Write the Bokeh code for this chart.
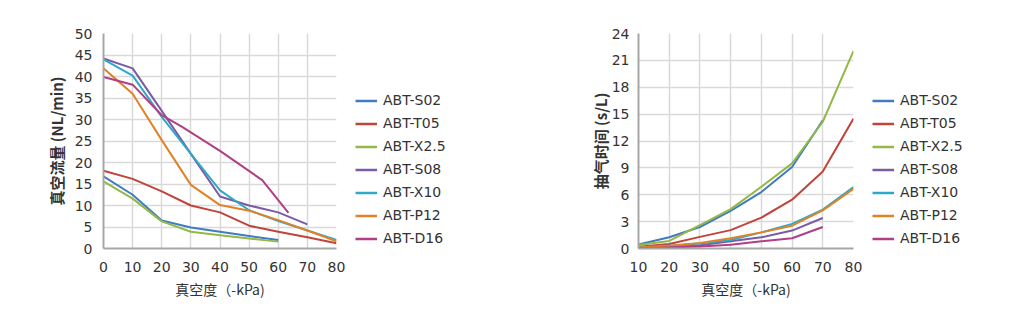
from bokeh.plotting import figure
from bokeh.layouts import row
from bokeh.models import Legend, LegendItem, Range1d, SingleIntervalTicker
from bokeh.embed import file_html
from bokeh.resources import INLINE

names = ["ABT-S02", "ABT-T05", "ABT-X2.5", "ABT-S08", "ABT-X10", "ABT-P12", "ABT-D16"]
colors = ["#3f7cc0", "#c0443c", "#94b847", "#7a5ba6", "#2fa8c8", "#e08228", "#b03f85"]

# Left chart: vacuum flow (NL/min) vs vacuum (-kPa)
flow_x = [
    [0, 10, 20, 30, 40, 50, 60],
    [0, 10, 20, 30, 40, 50, 60, 70, 80],
    [0, 10, 20, 30, 40, 50, 60],
    [0, 10, 20, 30, 40, 50, 60, 70],
    [0, 10, 20, 30, 40, 50, 60, 70, 80],
    [0, 10, 20, 30, 40, 50, 60, 70, 80],
    [0, 10, 20, 27, 40, 54.5, 63.5],
]
flow_y = [
    [16.8, 12.5, 6.5, 4.9, 3.9, 2.9, 2.0],
    [18.1, 16.2, 13.3, 10.0, 8.4, 5.3, 3.9, 2.6, 1.2],
    [15.6, 11.6, 6.3, 3.9, 3.1, 2.3, 1.6],
    [44.2, 41.9, 32.0, 22.0, 12.1, 10.0, 8.4, 5.6],
    [44.0, 40.2, 30.6, 22.0, 13.5, 8.9, 6.4, 4.2, 2.0],
    [41.9, 36.0, 25.2, 14.8, 10.1, 8.8, 6.6, 4.2, 1.7],
    [39.9, 38.1, 31.0, 28.3, 22.7, 15.9, 8.3],
]

# Right chart: evacuation time (s/L) vs vacuum (-kPa)
time_x = [
    [10, 20, 30, 40, 50, 60, 70],
    [10, 20, 30, 40, 50, 60, 70, 80],
    [10, 20, 30, 40, 50, 60, 70, 80],
    [10, 20, 30, 40, 50, 60, 70],
    [10, 20, 30, 40, 50, 60, 70, 80],
    [10, 20, 30, 40, 50, 60, 70, 80],
    [10, 20, 30, 40, 50, 60, 70],
]
time_y = [
    [0.45, 1.25, 2.4, 4.2, 6.3, 9.1, 14.3],
    [0.2, 0.5, 1.3, 2.05, 3.45, 5.45, 8.6, 14.5],
    [0.4, 0.85, 2.6, 4.4, 6.9, 9.5, 14.15, 22.05],
    [0.07, 0.2, 0.37, 0.8, 1.25, 2.0, 3.4],
    [0.12, 0.3, 0.55, 0.95, 1.8, 2.75, 4.35, 6.85],
    [0.12, 0.3, 0.62, 1.15, 1.8, 2.55, 4.25, 6.65],
    [0.04, 0.12, 0.22, 0.42, 0.8, 1.15, 2.4],
]

CJK = "Noto Sans CJK SC"
LAT = "DejaVu Sans"
TXT = "#333333"


def make_chart(xs, ys, xr, yr, xstep, ystep, ylabel, width, left, right, ylabel_standoff, tick_standoff):
    p = figure(width=width, height=317, output_backend="svg", toolbar_location=None,
               x_range=Range1d(*xr), y_range=Range1d(*yr),
               min_border_left=left, min_border_right=right,
               min_border_top=33, min_border_bottom=69)
    p.outline_line_color = None
    p.background_fill_color = "white"
    p.border_fill_color = "white"
    p.xaxis.ticker = SingleIntervalTicker(interval=xstep)
    p.yaxis.ticker = SingleIntervalTicker(interval=ystep)
    for ax in (p.xaxis[0], p.yaxis[0]):
        ax.axis_line_color = "#a6a6a6"
        ax.axis_line_width = 2
        ax.major_tick_line_color = None
        ax.minor_tick_line_color = None
        ax.major_label_text_font = LAT
        ax.major_label_text_font_size = "14px"
        ax.major_label_text_color = TXT
        ax.axis_label_text_font = CJK
        ax.axis_label_text_color = TXT
        ax.axis_label_text_font_size = "14px"
    p.xaxis.axis_label = "真空度（-kPa)"
    p.xaxis.axis_label_text_font_style = "normal"
    p.xaxis.major_label_standoff = 7
    p.xaxis.axis_label_standoff = 4
    p.yaxis.axis_label = ylabel
    p.yaxis.axis_label_text_font_style = "bold"
    p.yaxis.axis_label_text_font_size = "15px"
    p.yaxis.major_label_standoff = tick_standoff
    p.yaxis.axis_label_standoff = ylabel_standoff
    p.xgrid.grid_line_color = "#d9d9d9"
    p.ygrid.grid_line_color = "#d9d9d9"
    p.xgrid.grid_line_width = 1.5
    p.ygrid.grid_line_width = 1.5
    for name, col, x, y in zip(names, colors, xs, ys):
        p.line(x, y, line_color=col, line_width=2, line_join="round")
    return p


def make_legend(width, xs, ys):
    # legend panel: the series are attached as hidden renderers so the
    # legend can draw their swatches
    q = figure(width=width, height=317, output_backend="svg", toolbar_location=None,
               x_range=Range1d(0, 1), y_range=Range1d(0, 1),
               min_border_left=0, min_border_right=0, min_border_top=0, min_border_bottom=0)
    q.axis.visible = False
    q.grid.visible = False
    q.outline_line_color = None
    items = []
    for name, col, x, y in zip(names, colors, xs, ys):
        r = q.line(x, y, line_color=col, line_width=2.5, visible=False)
        items.append(LegendItem(label=name, renderers=[r]))
    leg = Legend(items=items, location=(0, -1.5))
    leg.padding = 0
    leg.margin = 0
    leg.border_line_color = None
    leg.background_fill_alpha = 0
    leg.label_text_font = LAT
    leg.label_text_font_size = "14px"
    leg.label_text_color = TXT
    leg.glyph_width = 22
    leg.glyph_height = 23
    leg.label_height = 23
    leg.spacing = 0
    leg.label_standoff = 6
    q.add_layout(leg, "center")
    return q


p1 = make_chart(flow_x, flow_y, (0, 80), (0, 50), 10, 5, "真空流量 (NL/min)",
                355, 103, 19, 5, 5)
l1 = make_legend(153, flow_x, flow_y)
p2 = make_chart(time_x, time_y, (10, 80), (0, 24), 10, 3, "抽气时间 (s/L)",
                364, 130, 19, -2, 3)
l2 = make_legend(144, time_x, time_y)

layout = row(p1, l1, p2, l2)
open("out.html", "w").write(file_html(layout, INLINE))
